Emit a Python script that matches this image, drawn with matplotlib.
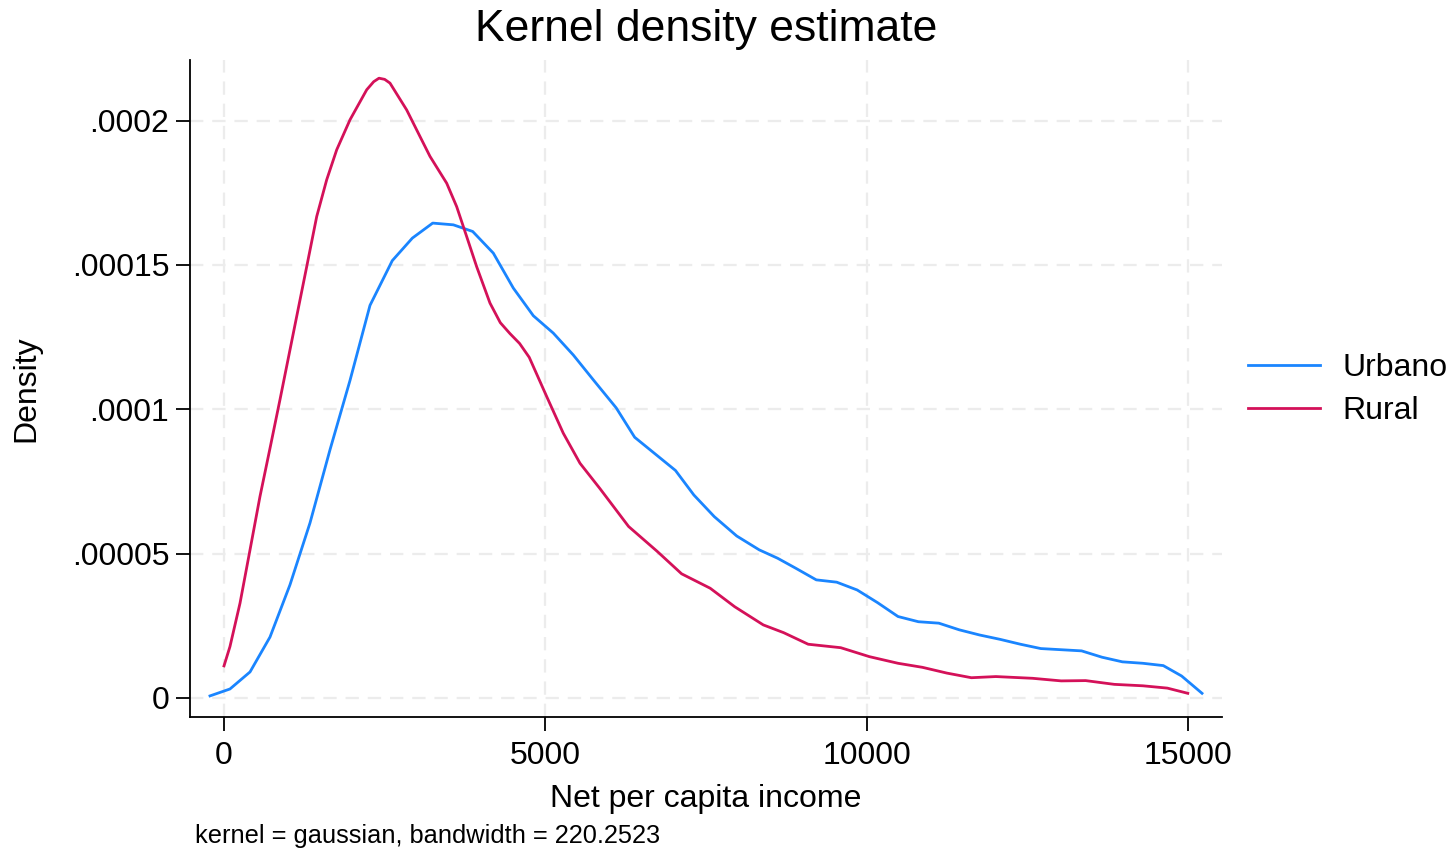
import matplotlib
matplotlib.use("Agg")
import matplotlib.pyplot as plt

plt.rcParams['font.family'] = ['Liberation Sans', 'DejaVu Sans']

# values
urbano_x = [-218, 93, 405, 716, 1027, 1338, 1650, 1961, 2272, 2619, 2931, 3248, 3569,
            3870, 4191, 4502, 4814, 5124, 5436, 5747, 6103, 6391, 7026, 7312, 7630,
            7979, 8329, 8615, 8900, 9217, 9535, 9853, 10171, 10489, 10806, 11124,
            11441, 11759, 12076, 12394, 12711, 13346, 13664, 13981, 14300, 14617,
            14902, 15220]
urbano_y = [0.7e-6, 3.1e-6, 9.0e-6, 2.11e-5, 3.92e-5, 6.06e-5, 8.6e-5, 1.10e-4,
            1.36e-4, 1.515e-4, 1.593e-4, 1.645e-4, 1.639e-4, 1.616e-4, 1.541e-4,
            1.420e-4, 1.324e-4, 1.264e-4, 1.188e-4, 1.102e-4, 1.005e-4, 9.03e-5,
            7.88e-5, 7.03e-5, 6.28e-5, 5.61e-5, 5.13e-5, 4.84e-5, 4.49e-5, 4.09e-5,
            4.01e-5, 3.74e-5, 3.30e-5, 2.82e-5, 2.64e-5, 2.59e-5, 2.36e-5, 2.18e-5,
            2.03e-5, 1.86e-5, 1.71e-5, 1.63e-5, 1.41e-5, 1.25e-5, 1.20e-5, 1.12e-5,
            7.6e-6, 1.6e-6]

rural_x = [0, 93, 249, 405, 560, 716, 871, 1027, 1183, 1287, 1443, 1598, 1754, 1961,
           2221, 2330, 2412, 2500, 2583, 2843, 3050, 3206, 3466, 3621, 3777, 3932,
           4139, 4300, 4451, 4600, 4750, 5022, 5280, 5540, 5851, 6296, 6740, 7121,
           7566, 7947, 8392, 8710, 9091, 9598, 10043, 10489, 10869, 11250, 11631,
           12012, 12583, 13028, 13409, 13855, 14300, 14680, 14998]
rural_y = [1.11e-5, 1.78e-5, 3.28e-5, 5.13e-5, 6.98e-5, 8.65e-5, 1.033e-4, 1.206e-4,
           1.379e-4, 1.494e-4, 1.668e-4, 1.795e-4, 1.899e-4, 2.003e-4, 2.107e-4,
           2.135e-4, 2.147e-4, 2.143e-4, 2.130e-4, 2.037e-4, 1.945e-4, 1.876e-4,
           1.783e-4, 1.702e-4, 1.598e-4, 1.494e-4, 1.368e-4, 1.300e-4, 1.262e-4,
           1.228e-4, 1.180e-4, 1.044e-4, 9.17e-5, 8.13e-5, 7.25e-5, 5.94e-5, 5.08e-5,
           4.30e-5, 3.80e-5, 3.16e-5, 2.53e-5, 2.26e-5, 1.86e-5, 1.74e-5, 1.43e-5,
           1.20e-5, 1.06e-5, 8.6e-6, 7.0e-6, 7.4e-6, 6.8e-6, 5.9e-6, 6.0e-6, 4.7e-6,
           4.2e-6, 3.4e-6, 1.6e-6]

x_ticks = [0, 5000, 10000, 15000]
y_ticks = [0, 0.00005, 0.0001, 0.00015, 0.0002]
y_tick_labels = ['0', '.00005', '.0001', '.00015', '.0002']

fig = plt.figure(figsize=(14.46, 8.5), dpi=100)
ax = fig.add_axes([0.1314, 0.1565, 0.7137, 0.7729])

ax.plot(urbano_x, urbano_y, color='#1a85ff', lw=2.0, label='Urbano')
ax.plot(rural_x, rural_y, color='#d41159', lw=2.0, label='Rural')

ax.set_xlim(-529, 15531)
ax.set_ylim(-6.6e-6, 2.21e-4)
ax.set_xticks(x_ticks)
ax.set_xticklabels([str(v) for v in x_ticks])
ax.set_yticks(y_ticks)
ax.set_yticklabels(y_tick_labels)

ax.grid(True, color='#ececec', ls=(0, (6, 4)), lw=1.6)
ax.set_axisbelow(True)
for side in ['top', 'right']:
    ax.spines[side].set_visible(False)
for side in ['left', 'bottom']:
    ax.spines[side].set_linewidth(1.3)
ax.tick_params(axis='both', length=10, width=1.3, labelsize=23)
ax.tick_params(axis='y', pad=5)
ax.tick_params(axis='x', pad=7)

ax.set_xlabel('Net per capita income', fontsize=23, labelpad=10)
ax.set_ylabel('Density', fontsize=23, labelpad=22)
ax.set_title('Kernel density estimate', fontsize=32, pad=14)

ax.legend(loc='center left', bbox_to_anchor=(1.025, 0.498), frameon=False,
          fontsize=23, handlelength=2.25, handletextpad=0.7, labelspacing=0.4,
          borderpad=0, borderaxespad=0)

fig.text(195 / 1446, 1 - 836 / 850, 'kernel = gaussian, bandwidth = 220.2523',
         fontsize=18.3, va='center', ha='left')

fig.savefig('out.png', dpi=100)
